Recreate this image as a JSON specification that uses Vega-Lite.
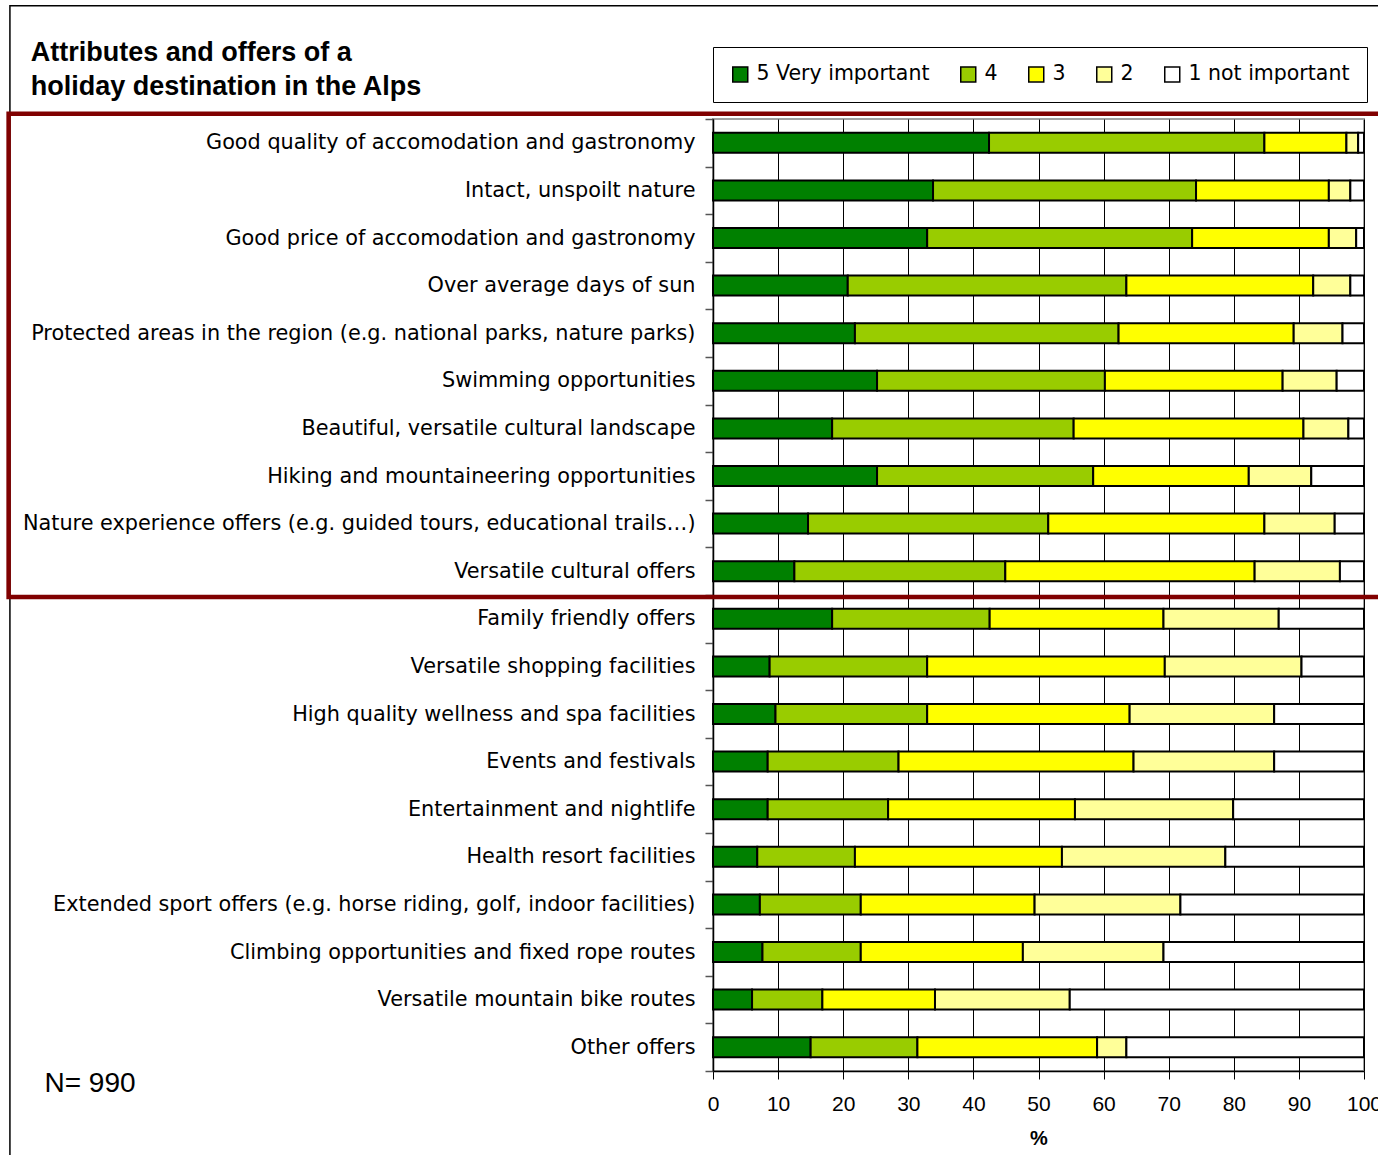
{
  "$schema": "https://vega.github.io/schema/vega-lite/v6.json",
  "width": 651,
  "height": 952,
  "autosize": {"type": "none"},
  "padding": {"left": 713, "top": 119, "right": 14, "bottom": 84},
  "background": "white",
  "config": {
    "view": {"stroke": "#a0a0a0", "strokeWidth": 2},
    "font": "Liberation Sans"
  },
  "resolve": {"scale": {"x": "independent", "y": "independent"}, "axis": {"x": "independent", "y": "independent"}},
  "layer": [
    {
      "data": {
        "values": [
          {"item": "Good quality of accomodation and gastronomy", "rating": "5 Very important", "pct": 42.4},
          {"item": "Good quality of accomodation and gastronomy", "rating": "4", "pct": 42.3},
          {"item": "Good quality of accomodation and gastronomy", "rating": "3", "pct": 12.6},
          {"item": "Good quality of accomodation and gastronomy", "rating": "2", "pct": 1.8},
          {"item": "Good quality of accomodation and gastronomy", "rating": "1 not important", "pct": 0.9},
          {"item": "Intact, unspoilt nature", "rating": "5 Very important", "pct": 33.8},
          {"item": "Intact, unspoilt nature", "rating": "4", "pct": 40.4},
          {"item": "Intact, unspoilt nature", "rating": "3", "pct": 20.4},
          {"item": "Intact, unspoilt nature", "rating": "2", "pct": 3.3},
          {"item": "Intact, unspoilt nature", "rating": "1 not important", "pct": 2.1},
          {"item": "Good price of accomodation and gastronomy", "rating": "5 Very important", "pct": 32.9},
          {"item": "Good price of accomodation and gastronomy", "rating": "4", "pct": 40.7},
          {"item": "Good price of accomodation and gastronomy", "rating": "3", "pct": 21.0},
          {"item": "Good price of accomodation and gastronomy", "rating": "2", "pct": 4.2},
          {"item": "Good price of accomodation and gastronomy", "rating": "1 not important", "pct": 1.2},
          {"item": "Over average days of sun", "rating": "5 Very important", "pct": 20.7},
          {"item": "Over average days of sun", "rating": "4", "pct": 42.8},
          {"item": "Over average days of sun", "rating": "3", "pct": 28.7},
          {"item": "Over average days of sun", "rating": "2", "pct": 5.7},
          {"item": "Over average days of sun", "rating": "1 not important", "pct": 2.1},
          {"item": "Protected areas in the region (e.g. national parks, nature parks)", "rating": "5 Very important", "pct": 21.8},
          {"item": "Protected areas in the region (e.g. national parks, nature parks)", "rating": "4", "pct": 40.5},
          {"item": "Protected areas in the region (e.g. national parks, nature parks)", "rating": "3", "pct": 26.9},
          {"item": "Protected areas in the region (e.g. national parks, nature parks)", "rating": "2", "pct": 7.5},
          {"item": "Protected areas in the region (e.g. national parks, nature parks)", "rating": "1 not important", "pct": 3.3},
          {"item": "Swimming opportunities", "rating": "5 Very important", "pct": 25.2},
          {"item": "Swimming opportunities", "rating": "4", "pct": 35.0},
          {"item": "Swimming opportunities", "rating": "3", "pct": 27.3},
          {"item": "Swimming opportunities", "rating": "2", "pct": 8.3},
          {"item": "Swimming opportunities", "rating": "1 not important", "pct": 4.2},
          {"item": "Beautiful, versatile cultural landscape", "rating": "5 Very important", "pct": 18.3},
          {"item": "Beautiful, versatile cultural landscape", "rating": "4", "pct": 37.1},
          {"item": "Beautiful, versatile cultural landscape", "rating": "3", "pct": 35.3},
          {"item": "Beautiful, versatile cultural landscape", "rating": "2", "pct": 6.9},
          {"item": "Beautiful, versatile cultural landscape", "rating": "1 not important", "pct": 2.4},
          {"item": "Hiking and mountaineering opportunities", "rating": "5 Very important", "pct": 25.2},
          {"item": "Hiking and mountaineering opportunities", "rating": "4", "pct": 33.2},
          {"item": "Hiking and mountaineering opportunities", "rating": "3", "pct": 23.9},
          {"item": "Hiking and mountaineering opportunities", "rating": "2", "pct": 9.6},
          {"item": "Hiking and mountaineering opportunities", "rating": "1 not important", "pct": 8.1},
          {"item": "Nature experience offers (e.g. guided tours, educational trails…)", "rating": "5 Very important", "pct": 14.6},
          {"item": "Nature experience offers (e.g. guided tours, educational trails…)", "rating": "4", "pct": 36.9},
          {"item": "Nature experience offers (e.g. guided tours, educational trails…)", "rating": "3", "pct": 33.2},
          {"item": "Nature experience offers (e.g. guided tours, educational trails…)", "rating": "2", "pct": 10.8},
          {"item": "Nature experience offers (e.g. guided tours, educational trails…)", "rating": "1 not important", "pct": 4.5},
          {"item": "Versatile cultural offers", "rating": "5 Very important", "pct": 12.5},
          {"item": "Versatile cultural offers", "rating": "4", "pct": 32.4},
          {"item": "Versatile cultural offers", "rating": "3", "pct": 38.3},
          {"item": "Versatile cultural offers", "rating": "2", "pct": 13.1},
          {"item": "Versatile cultural offers", "rating": "1 not important", "pct": 3.7},
          {"item": "Family friendly offers", "rating": "5 Very important", "pct": 18.3},
          {"item": "Family friendly offers", "rating": "4", "pct": 24.2},
          {"item": "Family friendly offers", "rating": "3", "pct": 26.7},
          {"item": "Family friendly offers", "rating": "2", "pct": 17.7},
          {"item": "Family friendly offers", "rating": "1 not important", "pct": 13.1},
          {"item": "Versatile shopping facilities", "rating": "5 Very important", "pct": 8.7},
          {"item": "Versatile shopping facilities", "rating": "4", "pct": 24.2},
          {"item": "Versatile shopping facilities", "rating": "3", "pct": 36.5},
          {"item": "Versatile shopping facilities", "rating": "2", "pct": 21.0},
          {"item": "Versatile shopping facilities", "rating": "1 not important", "pct": 9.6},
          {"item": "High quality wellness and spa facilities", "rating": "5 Very important", "pct": 9.6},
          {"item": "High quality wellness and spa facilities", "rating": "4", "pct": 23.3},
          {"item": "High quality wellness and spa facilities", "rating": "3", "pct": 31.1},
          {"item": "High quality wellness and spa facilities", "rating": "2", "pct": 22.2},
          {"item": "High quality wellness and spa facilities", "rating": "1 not important", "pct": 13.8},
          {"item": "Events and festivals", "rating": "5 Very important", "pct": 8.4},
          {"item": "Events and festivals", "rating": "4", "pct": 20.1},
          {"item": "Events and festivals", "rating": "3", "pct": 36.1},
          {"item": "Events and festivals", "rating": "2", "pct": 21.6},
          {"item": "Events and festivals", "rating": "1 not important", "pct": 13.8},
          {"item": "Entertainment and nightlife", "rating": "5 Very important", "pct": 8.4},
          {"item": "Entertainment and nightlife", "rating": "4", "pct": 18.5},
          {"item": "Entertainment and nightlife", "rating": "3", "pct": 28.7},
          {"item": "Entertainment and nightlife", "rating": "2", "pct": 24.3},
          {"item": "Entertainment and nightlife", "rating": "1 not important", "pct": 20.1},
          {"item": "Health resort facilities", "rating": "5 Very important", "pct": 6.8},
          {"item": "Health resort facilities", "rating": "4", "pct": 15.0},
          {"item": "Health resort facilities", "rating": "3", "pct": 31.8},
          {"item": "Health resort facilities", "rating": "2", "pct": 25.1},
          {"item": "Health resort facilities", "rating": "1 not important", "pct": 21.3},
          {"item": "Extended sport offers (e.g. horse riding, golf, indoor facilities)", "rating": "5 Very important", "pct": 7.2},
          {"item": "Extended sport offers (e.g. horse riding, golf, indoor facilities)", "rating": "4", "pct": 15.5},
          {"item": "Extended sport offers (e.g. horse riding, golf, indoor facilities)", "rating": "3", "pct": 26.7},
          {"item": "Extended sport offers (e.g. horse riding, golf, indoor facilities)", "rating": "2", "pct": 22.4},
          {"item": "Extended sport offers (e.g. horse riding, golf, indoor facilities)", "rating": "1 not important", "pct": 28.2},
          {"item": "Climbing opportunities and fixed rope routes", "rating": "5 Very important", "pct": 7.6},
          {"item": "Climbing opportunities and fixed rope routes", "rating": "4", "pct": 15.1},
          {"item": "Climbing opportunities and fixed rope routes", "rating": "3", "pct": 24.9},
          {"item": "Climbing opportunities and fixed rope routes", "rating": "2", "pct": 21.6},
          {"item": "Climbing opportunities and fixed rope routes", "rating": "1 not important", "pct": 30.8},
          {"item": "Versatile mountain bike routes", "rating": "5 Very important", "pct": 6.0},
          {"item": "Versatile mountain bike routes", "rating": "4", "pct": 10.8},
          {"item": "Versatile mountain bike routes", "rating": "3", "pct": 17.3},
          {"item": "Versatile mountain bike routes", "rating": "2", "pct": 20.7},
          {"item": "Versatile mountain bike routes", "rating": "1 not important", "pct": 45.2},
          {"item": "Other offers", "rating": "5 Very important", "pct": 15.0},
          {"item": "Other offers", "rating": "4", "pct": 16.4},
          {"item": "Other offers", "rating": "3", "pct": 27.6},
          {"item": "Other offers", "rating": "2", "pct": 4.5},
          {"item": "Other offers", "rating": "1 not important", "pct": 36.5}
        ]
      },
      "mark": {"type": "bar", "stroke": "black", "strokeWidth": 2, "height": {"band": 0.42}},
      "encoding": {
        "y": {
          "field": "item",
          "type": "nominal",
          "sort": [
            "Good quality of accomodation and gastronomy",
            "Intact, unspoilt nature",
            "Good price of accomodation and gastronomy",
            "Over average days of sun",
            "Protected areas in the region (e.g. national parks, nature parks)",
            "Swimming opportunities",
            "Beautiful, versatile cultural landscape",
            "Hiking and mountaineering opportunities",
            "Nature experience offers (e.g. guided tours, educational trails…)",
            "Versatile cultural offers",
            "Family friendly offers",
            "Versatile shopping facilities",
            "High quality wellness and spa facilities",
            "Events and festivals",
            "Entertainment and nightlife",
            "Health resort facilities",
            "Extended sport offers (e.g. horse riding, golf, indoor facilities)",
            "Climbing opportunities and fixed rope routes",
            "Versatile mountain bike routes",
            "Other offers"
          ],
          "scale": {"paddingInner": 0, "paddingOuter": 0},
          "axis": {
            "title": null,
            "labelFont": "DejaVu Sans",
            "labelFontSize": 20.8,
            "labelColor": "black",
            "labelLimit": 0,
            "labelPadding": 10,
            "tickBand": "extent",
            "tickSize": 8,
            "tickColor": "#555555",
            "tickWidth": 1.5,
            "domainColor": "black",
            "domainWidth": 1.5,
            "grid": false
          }
        },
        "x": {
          "field": "pct",
          "type": "quantitative",
          "stack": "zero",
          "scale": {"domain": [0, 100], "nice": false},
          "axis": {
            "orient": "bottom",
            "title": "%",
            "titleFont": "Liberation Sans",
            "titleFontSize": 20,
            "titleFontWeight": "bold",
            "titleColor": "black",
            "titlePadding": 14,
            "values": [0, 10, 20, 30, 40, 50, 60, 70, 80, 90, 100],
            "labelFont": "Liberation Sans",
            "labelFontSize": 21,
            "labelColor": "black",
            "labelPadding": 14,
            "labelFlush": false,
            "labelOverlap": false,
            "tickSize": 8,
            "tickColor": "black",
            "domainColor": "black",
            "domainWidth": 1.5,
            "grid": true,
            "gridColor": "black",
            "gridWidth": 1
          }
        },
        "color": {
          "field": "rating",
          "type": "nominal",
          "scale": {
            "domain": ["5 Very important", "4", "3", "2", "1 not important"],
            "range": ["#008000", "#99CC00", "#FFFF00", "#FFFF99", "#FFFFFF"]
          },
          "legend": {
            "title": null,
            "orient": "none",
            "legendX": 0,
            "legendY": -72,
            "direction": "horizontal",
            "columns": 5,
            "columnPadding": 27,
            "padding": 17,
            "strokeColor": "black",
            "fillColor": "white",
            "symbolType": "square",
            "symbolSize": 225,
            "symbolStrokeColor": "black",
            "symbolStrokeWidth": 1.5,
            "labelFont": "DejaVu Sans",
            "labelFontSize": 20.5,
            "labelColor": "black",
            "labelOffset": 6,
            "labelLimit": 0
          }
        },
        "order": {"field": "rating", "type": "ordinal", "sort": "descending"}
      }
    },
    {
      "data": {"values": [{}]},
      "mark": {"type": "rect", "filled": false, "stroke": "black", "strokeWidth": 1.5},
      "encoding": {
        "x": {"datum": -108.0, "type": "quantitative", "scale": {"domain": [0, 100], "nice": false, "zero": false}, "axis": null},
        "x2": {"datum": 103},
        "y": {"datum": -2.38, "type": "quantitative", "scale": {"domain": [0, 20], "reverse": true, "nice": false, "zero": false}, "axis": null},
        "y2": {"datum": 22.5}
      }
    },
    {
      "data": {"values": [{}]},
      "mark": {"type": "rect", "filled": false, "stroke": "#800000", "strokeWidth": 4.5},
      "encoding": {
        "x": {"datum": -108.2, "type": "quantitative", "scale": {"domain": [0, 100], "nice": false, "zero": false}, "axis": null},
        "x2": {"datum": 102.5},
        "y": {"datum": -0.11, "type": "quantitative", "scale": {"domain": [0, 20], "reverse": true, "nice": false, "zero": false}, "axis": null},
        "y2": {"datum": 10.04}
      }
    },
    {
      "data": {"values": [{"note": "Attributes and offers of a\nholiday destination in the Alps"}]},
      "mark": {"type": "text", "font": "Liberation Sans", "fontSize": 27, "fontWeight": "bold", "color": "black", "align": "left", "baseline": "alphabetic", "lineBreak": "\n", "lineHeight": 34},
      "encoding": {
        "text": {"field": "note"},
        "x": {"datum": -104.8, "type": "quantitative", "scale": {"domain": [0, 100], "nice": false, "zero": false}, "axis": null},
        "y": {"datum": -1.218, "type": "quantitative", "scale": {"domain": [0, 20], "reverse": true, "nice": false, "zero": false}, "axis": null}
      }
    },
    {
      "data": {"values": [{"note": "N= 990"}]},
      "mark": {"type": "text", "font": "Liberation Sans", "fontSize": 28, "color": "black", "align": "center", "baseline": "middle"},
      "encoding": {
        "text": {"field": "note"},
        "x": {"datum": -95.7, "type": "quantitative", "scale": {"domain": [0, 100], "nice": false, "zero": false}, "axis": null},
        "y": {"datum": 20.27, "type": "quantitative", "scale": {"domain": [0, 20], "reverse": true, "nice": false, "zero": false}, "axis": null}
      }
    }
  ]
}
